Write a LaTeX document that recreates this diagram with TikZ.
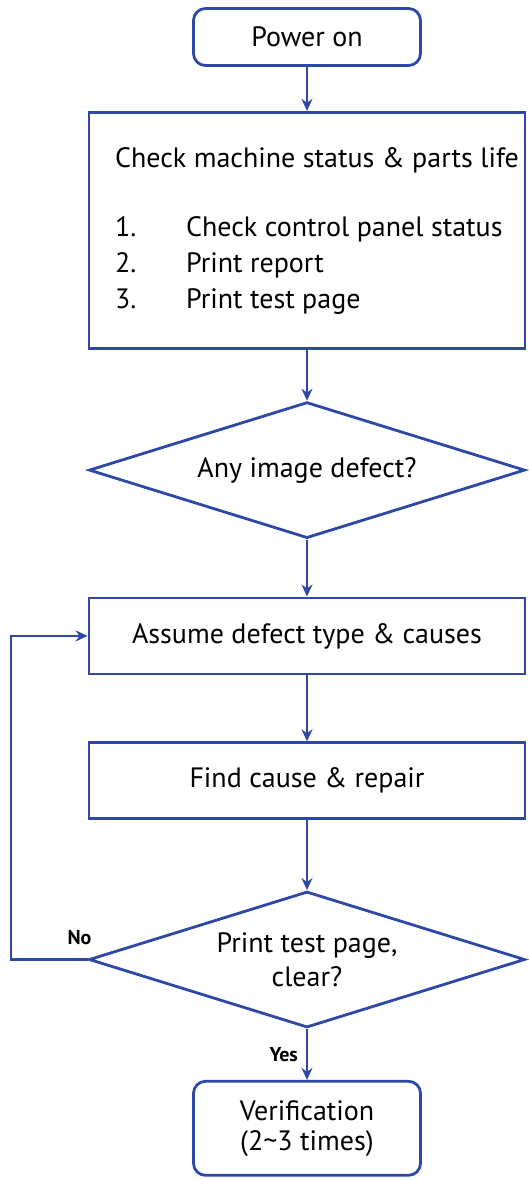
\documentclass[tikz,border=0pt]{standalone}
\usepackage{fontspec}
\setmainfont{PT Sans}
\usetikzlibrary{shapes.geometric, arrows.meta, positioning}
\usepackage{xcolor}
\definecolor{hpblue}{RGB}{46,72,166}
\tikzstyle{process} = [rectangle, draw=hpblue, line width=2.8pt, minimum width=436pt, minimum height=76pt, text centered, font=\fontsize{28}{36}\selectfont]
\tikzstyle{startstop} = [process, rounded corners=12pt, minimum width=227pt, align=center]
\tikzstyle{decision} = [diamond, aspect=3.2, draw=hpblue, line width=2.8pt, minimum width=436pt, minimum height=136pt, inner sep=0pt, align=center, font=\fontsize{28}{34}\selectfont]
\tikzstyle{arrow} = [line width=2.2pt, hpblue, -{Stealth[length=12pt, width=11pt]}]
\tikzstyle{lbl} = [text=black, font=\fontsize{20}{22}\selectfont\bfseries, inner sep=2pt]

\begin{document}
\begin{tikzpicture}[x=1pt, y=-1pt, node distance=50pt]
    \useasboundingbox (0,0) rectangle (528,1180);

    % Start
    \node (power) [startstop, minimum height=57pt] at (307,37) {Power on};

    % Status check
    \node (check) [process, minimum height=236pt, inner xsep=0pt, align=left, below=44pt of power] {%
        \begin{tabular}{@{\hspace{20pt}}p{71pt}@{}l@{}}
            \multicolumn{2}{@{\hspace{20pt}}l@{}}{Check machine status \& parts life}\\[33pt]
            1. & Check control panel status\\
            2. & Print report\\
            3. & Print test page
        \end{tabular}};

    % First decision
    \node (defect) [decision, below=51pt of check] {Any image defect?};

    % Repair loop
    \node (assume) [process, below=57pt of defect] {Assume defect type \& causes};
    \node (repair) [process, below=66pt of assume] {Find cause \& repair};
    \node (clear) [decision, below=70pt of repair] {Print test page,\\ clear?};

    % End
    \node (verify) [startstop, minimum height=94pt, below=51pt of clear, font=\fontsize{28}{30}\selectfont] {Verification\\ (2\textasciitilde 3 times)};

    \draw [arrow] (power) -- (check);
    \draw [arrow] (check) -- (defect);
    \draw [arrow] (defect) -- (assume);
    \draw [arrow] (assume) -- (repair);
    \draw [arrow] (repair) -- (clear);
    \draw [arrow] (clear) -- node[lbl, left=6pt]{Yes} (verify);
    \draw [arrow] (clear.west) -- ++(-77pt,0) |- (assume.west);
    \node[lbl, above left=13pt and -6pt of clear.west] {No};
\end{tikzpicture}
\end{document}
